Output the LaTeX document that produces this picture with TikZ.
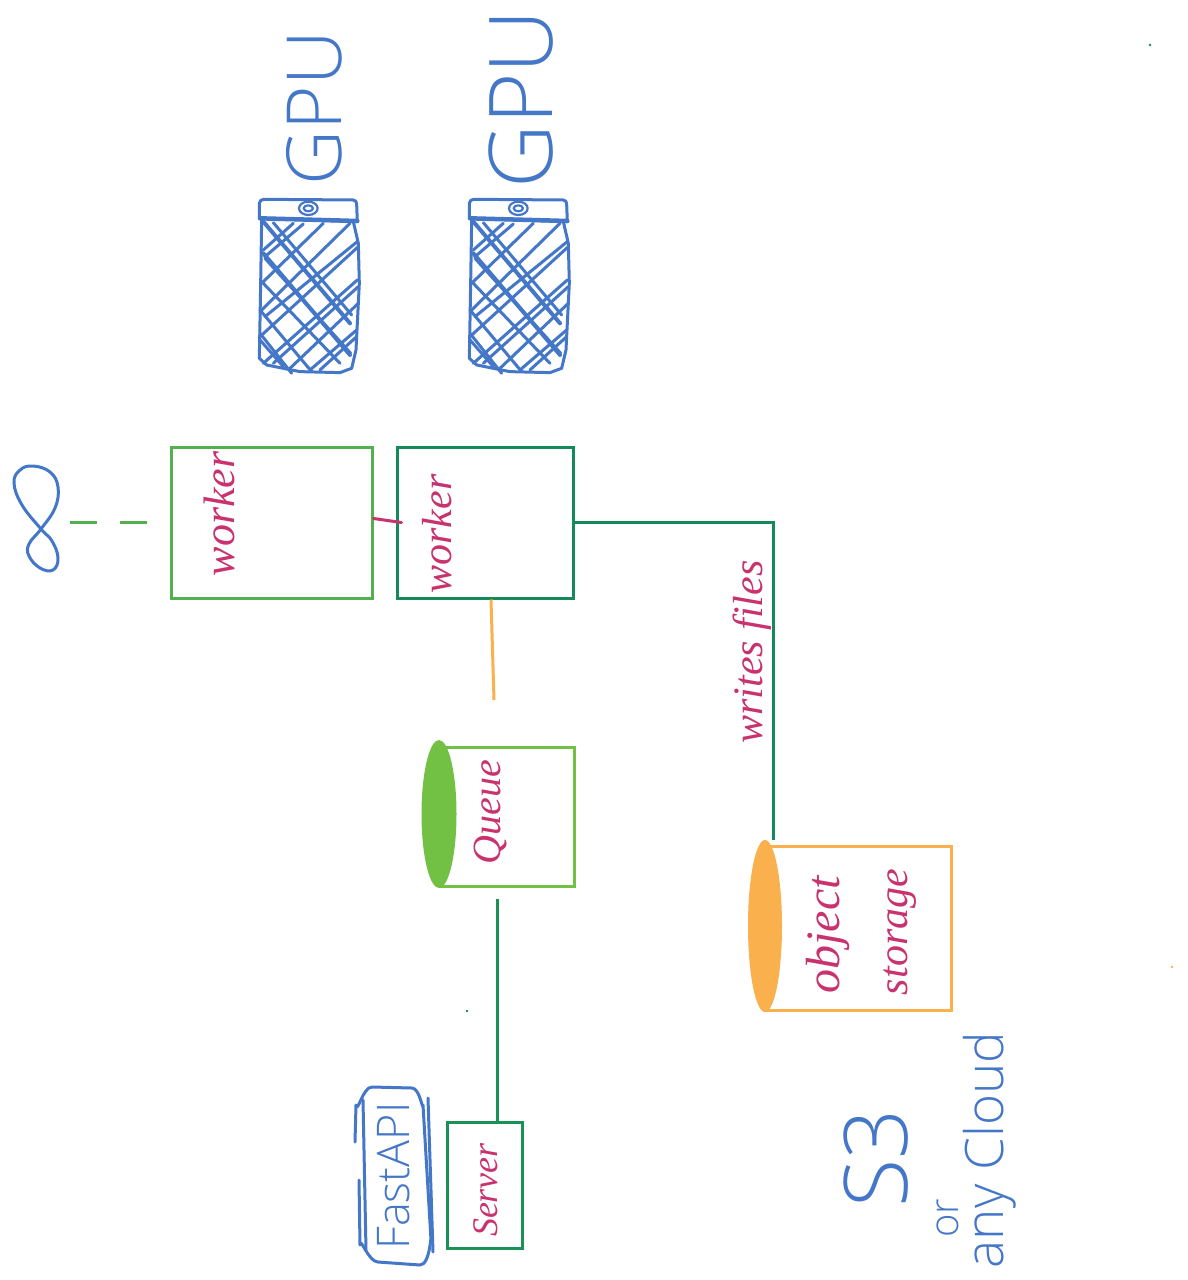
\documentclass[tikz,border=0pt]{standalone}
\usepackage{fontspec}
\usetikzlibrary{shapes.geometric,calc}
\setmainfont{Liberation Serif}
\newfontfamily\handblue{Open Sans Light}
\definecolor{inkblue}{HTML}{4477C8}
\definecolor{inkpink}{HTML}{C8326E}
\definecolor{lightgr}{HTML}{52B04E}
\definecolor{darkgr}{HTML}{14895A}
\definecolor{srvgr}{HTML}{1A9155}
\definecolor{queuegr}{HTML}{72C044}
\definecolor{inkor}{HTML}{FBB04E}
\tikzset{
  boxnode/.style={draw,line width=3pt,inner sep=0pt,fill=white},
  capnode/.style={ellipse,inner sep=0pt},
  pinklabel/.style={text=inkpink,rotate=90,inner sep=0pt,font=\itshape},
  bluelabel/.style={text=inkblue,rotate=90,inner sep=0pt},
  conn/.style={line width=3pt},
  inkline/.style={draw=inkblue,line width=3pt,line cap=round,line join=round},
  hatch/.style={draw=inkblue,line width=3pt,line cap=round},
  hatchb/.style={draw=inkblue,line width=4pt,line cap=round}
}
\newcommand{\gpuicon}[1]{%
\begin{scope}[shift={(#1,0)},x=0.3333pt,y=-0.3333pt]
  \draw[inkline,fill=white] (58,655) -- (58,610) to[out=90,in=180] (72,598) -- (340,600) to[out=0,in=90] (350,612) -- (352,665) -- cycle;
  \draw[inkline,line width=4.5pt] (60,655) -- (352,663);
  \draw[inkline] (65,660) -- (62,850) -- (58,1075) -- (80,1095) -- (180,1115) -- (300,1118) -- (335,1105) -- (348,1050) -- (358,850) -- (355,730) -- (340,665);
  \draw[inkline,line width=2.2pt] (205,625) ellipse (28 and 20);
  \draw[inkline,line width=2.2pt] (205,625) ellipse (14 and 9);
  \foreach \a/\b/\c/\d in {100/668/335/945,75/775/332/1060,65/845/300/1090,60/930/215/1115,60/1000/155/1120,60/1020/130/1100,
    70/750/160/670,75/770/190/672,65/850/250/670,65/930/330/670,75/950/352/725,60/1010/355/740,70/1090/352/840,100/1090/355/860,150/1105/355/910,210/1110/350/990,240/1110/350/1010}
    {\draw[hatch] (\a,\b) -- (\c,\d);}
  \foreach \a/\b/\c/\d in {70/665/330/970,70/760/330/1065}
    {\draw[hatchb] (\a,\b) -- (\c,\d);}
\end{scope}
}
\begin{document}
\begin{tikzpicture}[x=1pt,y=-1pt]
\useasboundingbox (0,0) rectangle (1187,1280);
\fill[white] (0,0) rectangle (1187,1280);

% GPU racks
\gpuicon{240}
\gpuicon{450}
\node[bluelabel,font=\handblue\fontsize{76}{76}\selectfont] (gpua) at (314,108) {GPU};
\node[bluelabel,font=\handblue\fontsize{88}{88}\selectfont] (gpub) at (521,99) {GPU};

% boxes
\node[boxnode,draw=lightgr,minimum width=201pt,minimum height=151pt] (workera) at (271.5,522.5) {};
\node[boxnode,draw=darkgr,minimum width=176pt,minimum height=151pt] (workerb) at (485,522.5) {};
\node[boxnode,draw=queuegr,minimum width=134pt,minimum height=139pt] (queue) at (507,816.5) {};
\node[capnode,fill=queuegr,minimum width=35pt,minimum height=148pt] (queuecap) at (439,814) {};
\node[boxnode,draw=inkor,minimum width=186pt,minimum height=164pt] (store) at (858,928) {};
\node[capnode,fill=inkor,minimum width=34pt,minimum height=172pt] (storecap) at (765,926) {};
\node[boxnode,draw=srvgr,minimum width=75pt,minimum height=126pt] (server) at (484.5,1185) {};

% labels
\node[pinklabel,font=\itshape\fontsize{44}{44}\selectfont] (wa) at (219,514) {worker};
\node[pinklabel,font=\itshape\fontsize{42}{42}\selectfont] (wb) at (437,534) {worker};
\node[pinklabel,font=\itshape\fontsize{40}{40}\selectfont] (ql) at (490,812) {Queue};
\node[pinklabel,font=\itshape\fontsize{36}{36}\selectfont] (sl) at (486,1190) {Server};
\node[pinklabel,font=\itshape\fontsize{42}{42}\selectfont] (wf) at (752,652) {writes files};
\node[pinklabel,font=\itshape\fontsize{48}{48}\selectfont] (ob) at (828,935) {object};
\node[pinklabel,font=\itshape\fontsize{42}{42}\selectfont] (st) at (900,932) {storage};
\node[bluelabel,font=\handblue\fontsize{45}{45}\selectfont] (fa) at (394,1176) {FastAPI};
\node[bluelabel,font=\handblue\fontsize{88}{88}\selectfont] (s3) at (876,1158) {S3};
\node[bluelabel,font=\handblue\fontsize{40}{40}\selectfont] (orl) at (948,1218) {or};
\node[bluelabel,font=\handblue\fontsize{53}{53}\selectfont] (cl) at (990,1150) {any Cloud};

% infinity mark
\coordinate (infend) at (70,522);
\coordinate (dashend) at (147,522);
\draw[draw=inkblue,line width=3pt] plot[smooth cycle,tension=0.7] coordinates {(41,529) (22,505) (14,483) (20,470) (33,466) (50,472) (58,487) (55,508) (41,529) (29,544) (29,556) (40,568) (53,570) (58,558) (52,541)};
\draw[conn,draw=lightgr,dash pattern=on 27pt off 23pt] (infend) -- (dashend);

% connectors
\draw[conn,draw=inkpink,line cap=round] ([yshift=4pt]workera.east) -- ([xshift=6pt]workerb.west);
\coordinate (queuetop) at (494,700);
\draw[conn,draw=inkor] ([xshift=6pt]workerb.south) -- (queuetop);
\draw[conn,draw=darkgr] (workerb.east) -| ([xshift=8pt]storecap.north);
\coordinate (queuebot) at (497,899);
\draw[conn,draw=srvgr] (queuebot) -- (497,1122);

% FastAPI frame
\draw[inkline] (355,1142) -- (356,1105) to[out=-80,in=180] (372,1087) -- (412,1088) to[out=0,in=-90] (423,1105) -- (431,1240) to[out=90,in=0] (420,1265) -- (378,1262) to[out=180,in=90] (360,1245) -- (359,1180);
\draw[inkline] (363,1100) -- (366,1250);
\draw[inkline] (428,1098) -- (433,1252);

% specks
\fill[darkgr] (1150,45) circle (1.3pt);
\fill[inkor] (1172,967) circle (1.3pt);
\fill[darkgr] (467,1011) circle (1.3pt);
\end{tikzpicture}
\end{document}
